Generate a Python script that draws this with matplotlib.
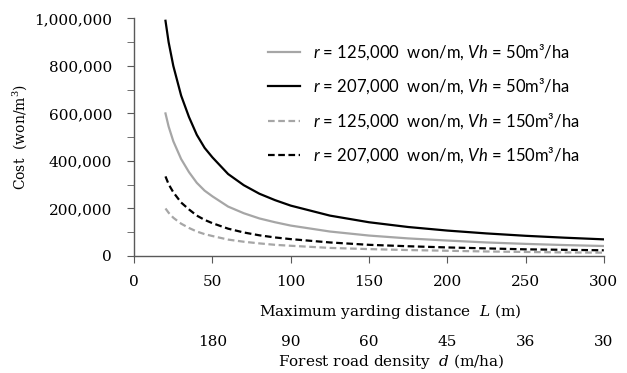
"""
Cost versus maximum yarding distance for two road costs and two harvest volumes
"""

import matplotlib
matplotlib.use('Agg')
import matplotlib.pyplot as plt
from matplotlib.ticker import MultipleLocator, FuncFormatter

plt.rcParams['mathtext.fontset'] = 'custom'
plt.rcParams['mathtext.it'] = 'DejaVu Serif:italic'
plt.rcParams['mathtext.rm'] = 'DejaVu Serif'
plt.rcParams['mathtext.sf'] = 'Lato:italic'

# Maximum yarding distance L (m)
distance = [20, 22, 25, 30, 35, 40, 45, 50, 60, 70, 80, 90, 100, 125, 150, 175, 200,
            225, 250, 275, 300]

# Cost (won/m3)
cost_125_50 = [600000, 545000, 483000, 408000, 353000, 308000, 275000, 251000, 208000,
               180000, 158000, 142000, 128000, 103000, 86000, 74000, 65000, 57000,
               51000, 46000, 42000]
cost_207_50 = [990000, 900000, 800000, 675000, 585000, 510000, 455000, 415000, 345000,
               298000, 262000, 235000, 212000, 170000, 142000, 122000, 107000, 95000,
               85000, 77000, 70000]
cost_125_150 = [200000, 182000, 161000, 136000, 118000, 103000, 92000, 84000, 69000,
                60000, 53000, 47000, 43000, 34000, 29000, 25000, 22000, 19000,
                17000, 15000, 14000]
cost_207_150 = [335000, 302000, 268000, 225000, 196000, 170000, 152000, 138000, 115000,
                99000, 87000, 78000, 71000, 57000, 47000, 41000, 36000, 32000,
                28000, 26000, 24000]

labels = [r'$\mathsf{r}$ = 125,000  won/m, $\mathsf{Vh}$ = 50m³/ha',
          r'$\mathsf{r}$ = 207,000  won/m, $\mathsf{Vh}$ = 50m³/ha',
          r'$\mathsf{r}$ = 125,000  won/m, $\mathsf{Vh}$ = 150m³/ha',
          r'$\mathsf{r}$ = 207,000  won/m, $\mathsf{Vh}$ = 150m³/ha']

# Second axis: forest road density d (m/ha) at L = 50 ... 300
density_pos = [50, 100, 150, 200, 250, 300]
density_labels = ['180', '90', '60', '45', '36', '30']

gray = '#a6a6a6'
serif = 'DejaVu Serif'
dash = (0, (3, 1.6))

fig = plt.figure(figsize=(6.27, 3.73), dpi=100)
ax = fig.add_axes([0.214, 0.3137, 0.749, 0.637])

ax.plot(distance, cost_125_50, color=gray, lw=1.6, label=labels[0])
ax.plot(distance, cost_207_50, color='black', lw=1.6, label=labels[1])
ax.plot(distance, cost_125_150, color=gray, lw=1.6, ls=dash, label=labels[2])
ax.plot(distance, cost_207_150, color='black', lw=1.6, ls=dash, label=labels[3])

ax.set_xlim(0, 300)
ax.set_ylim(0, 1000000)
ax.xaxis.set_major_locator(MultipleLocator(50))
ax.yaxis.set_major_locator(MultipleLocator(200000))
ax.yaxis.set_minor_locator(MultipleLocator(100000))
ax.yaxis.set_major_formatter(FuncFormatter(lambda v, p: f'{int(v):,}'))

for side in ['top', 'right']:
    ax.spines[side].set_visible(False)
for side in ['left', 'bottom']:
    ax.spines[side].set_color('#595959')
    ax.spines[side].set_linewidth(1.0)

ax.tick_params(axis='both', which='both', direction='out', color='#595959')
ax.tick_params(axis='y', which='major', length=5, pad=11)
ax.tick_params(axis='y', which='minor', length=5)
ax.tick_params(axis='x', which='major', length=5, pad=9)
for lab in ax.get_xticklabels() + ax.get_yticklabels():
    lab.set_fontfamily(serif)
    lab.set_fontsize(11)

ax.set_ylabel('Cost  (won/m$^3$)', fontfamily=serif, fontsize=10)
ax.yaxis.set_label_coords(-0.225, 0.5)
ax.set_xlabel(r'Maximum yarding distance  $L$ (m)', fontfamily=serif, fontsize=11)
ax.xaxis.set_label_coords(0.545, -0.192)

# forest road density scale below the main x axis
ax2 = ax.twiny()
ax2.set_xlim(ax.get_xlim())
ax2.xaxis.set_ticks_position('bottom')
ax2.xaxis.set_label_position('bottom')
ax2.spines['bottom'].set_position(('outward', 57))
for side in ['top', 'right', 'left', 'bottom']:
    ax2.spines[side].set_visible(False)
ax2.set_xticks(density_pos)
ax2.set_xticklabels(density_labels, fontfamily=serif, fontsize=11)
ax2.tick_params(axis='x', length=0, pad=0)
ax2.set_xlabel(r'Forest road density  $d$ (m/ha)', fontfamily=serif, fontsize=11)
ax2.xaxis.set_label_coords(0.548, -0.405)

leg = ax.legend(loc='upper left', bbox_to_anchor=(0.285, 0.9), frameon=False,
                borderpad=0, borderaxespad=0, handlelength=1.9, handletextpad=0.8,
                labelspacing=0.88, prop={'family': 'Lato', 'size': 12})

fig.savefig('out.png', dpi=100)
